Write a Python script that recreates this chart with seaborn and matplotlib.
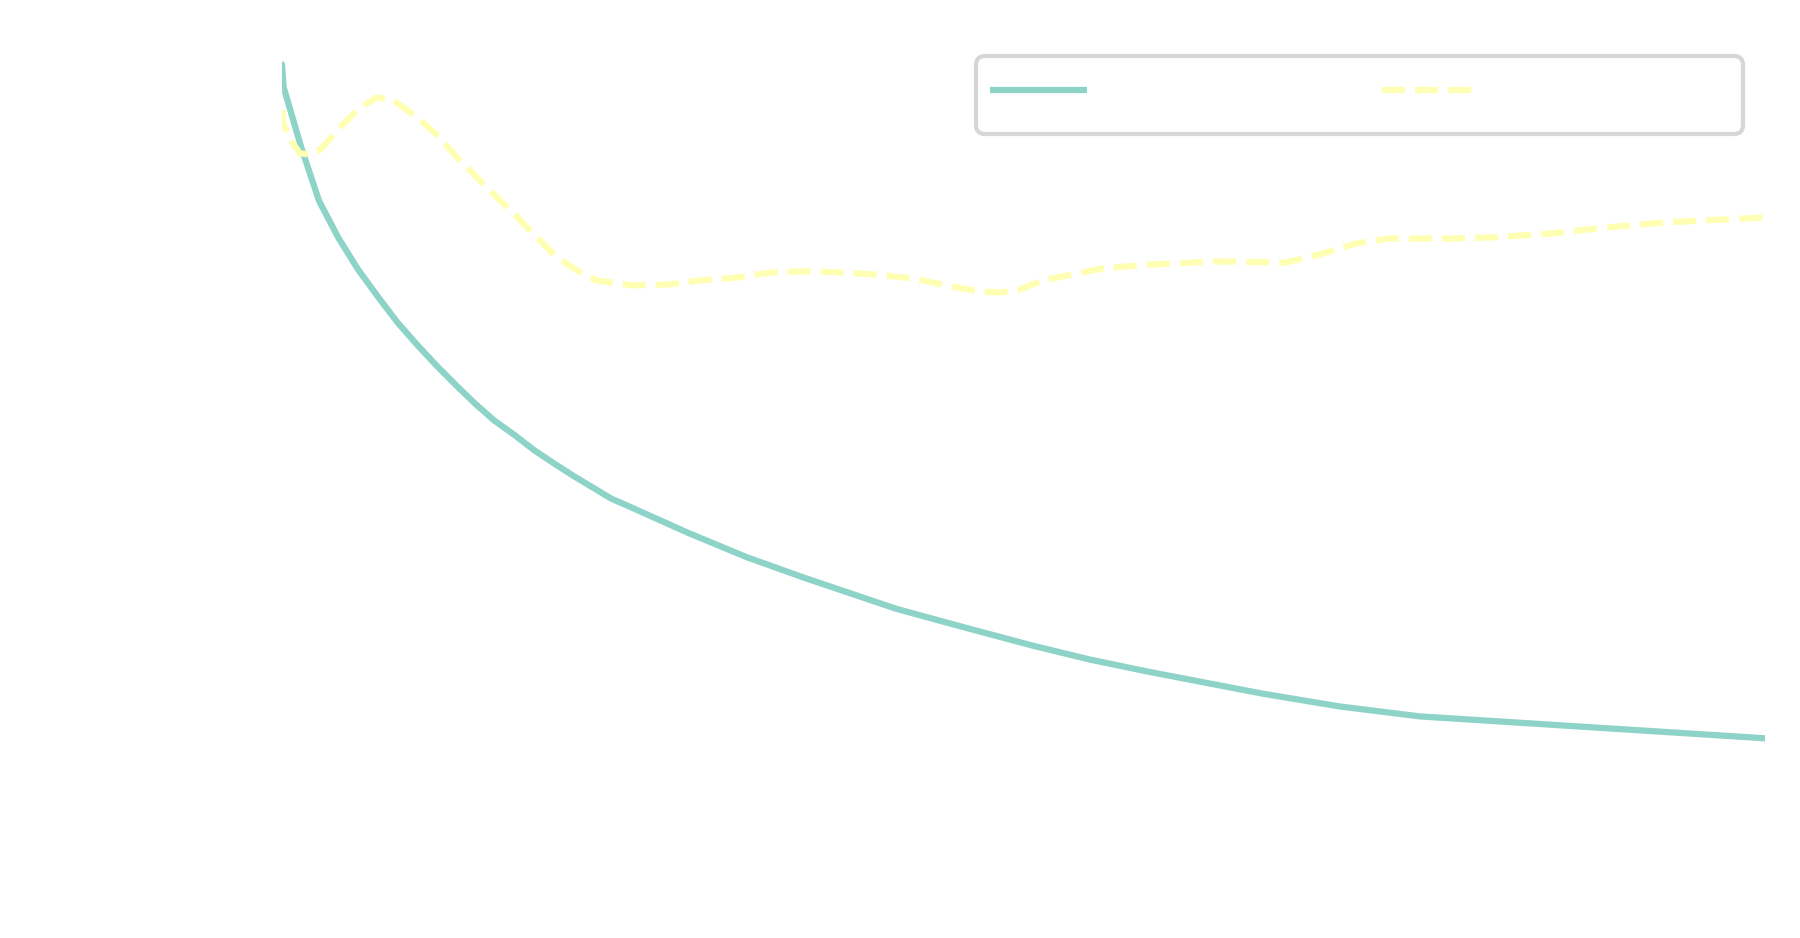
import matplotlib
matplotlib.use("Agg")
import matplotlib.pyplot as plt
import seaborn as sns
import pandas as pd

# series (x in steps, y in loss units)
train_steps = [0, 1, 13, 25, 38, 51, 65, 78, 91, 104, 117, 130, 143, 157, 170, 183,
               196, 209, 222, 236, 274, 313, 352, 414, 460, 506, 545, 584, 661, 713,
               767, 1000]
train_loss = [1.928, 1.874, 1.727, 1.598, 1.509, 1.434, 1.365, 1.304, 1.251, 1.201,
              1.154, 1.109, 1.068, 1.032, 0.996, 0.965, 0.935, 0.907, 0.879, 0.857,
              0.796, 0.738, 0.688, 0.613, 0.568, 0.524, 0.490, 0.461, 0.408, 0.377,
              0.353, 0.300]

val_steps = [0, 1, 7, 12, 19, 26, 41, 53, 64, 75, 91, 105, 118, 136, 154, 172, 184,
             198, 212, 236, 260, 282, 307, 329, 354, 378, 401, 425, 448, 471, 484,
             496, 513, 553, 584, 630, 677, 700, 724, 746, 785, 816, 855, 893, 933,
             971, 1000]
val_loss = [1.819, 1.783, 1.739, 1.713, 1.710, 1.722, 1.783, 1.824, 1.848, 1.841,
            1.800, 1.756, 1.703, 1.638, 1.575, 1.510, 1.466, 1.432, 1.406, 1.394,
            1.396, 1.406, 1.413, 1.425, 1.428, 1.425, 1.420, 1.411, 1.394, 1.379,
            1.377, 1.382, 1.406, 1.435, 1.444, 1.452, 1.449, 1.469, 1.495, 1.507,
            1.507, 1.510, 1.519, 1.534, 1.546, 1.553, 1.558]

series_names = ["Training", "Validation"]

df = pd.concat([
    pd.DataFrame({"step": train_steps, "loss": train_loss, "series": series_names[0]}),
    pd.DataFrame({"step": val_steps, "loss": val_loss, "series": series_names[1]}),
], ignore_index=True)

sns.set_style("white")

fig, ax = plt.subplots(figsize=(12, 938 / 150), dpi=150)
fig.subplots_adjust(left=282 / 1800, right=1765 / 1800,
                    top=1 - 34.5 / 938, bottom=1 - 862.5 / 938)

sns.lineplot(data=df, x="step", y="loss", hue="series", style="series",
             palette=sns.color_palette("Set3", 2), dashes=["", (3.7, 1.6)],
             linewidth=3, sort=False, estimator=None, ax=ax)

ax.set_xlim(0, 1000)
ax.set_ylim(0, 2.0)
ax.set(xticks=[], yticks=[], xlabel="", ylabel="")
sns.despine(ax=ax, left=True, bottom=True)

# rebuild the legend: two columns, wide frame, labels in white like the reference
old = ax.get_legend()
handles = old.legend_handles
labels = [t.get_text() for t in old.get_texts()]
leg = ax.legend(handles, labels, loc="upper right", ncol=2, fontsize=21,
                handlelength=2.2, handleheight=1.33, borderpad=0.33,
                frameon=True, fancybox=True, framealpha=1,
                facecolor="white", edgecolor="#d6d6d6", labelcolor="white")
leg.get_frame().set_linewidth(2)
for h in leg.legend_handles:
    h.set_linewidth(3)
    h.set_solid_capstyle("butt")
    h.set_dash_capstyle("butt")

fig.savefig("out.png", dpi=150)
